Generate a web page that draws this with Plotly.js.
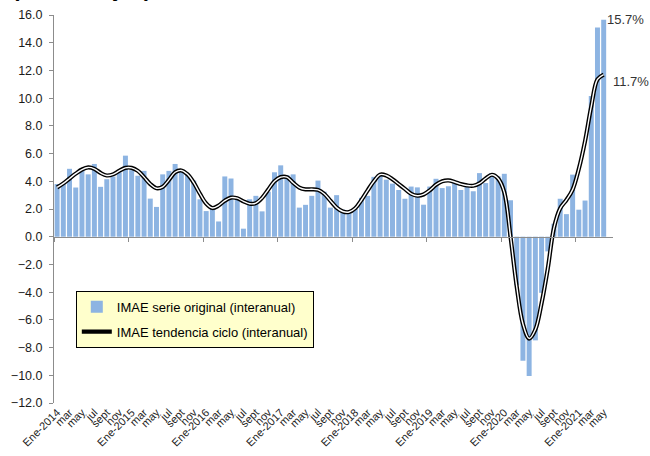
<!DOCTYPE html>
<html>
<head>
<meta charset="utf-8">
<script src="https://cdn.plot.ly/plotly-3.0.1.min.js"></script>
<style>html,body{margin:0;padding:0;background:#fff;}#chart{width:650px;height:456px;}</style>
</head>
<body>
<div id="chart"></div>
<script>
// Monthly series, Jan 2014 .. May 2021
const serieOriginal = [
  3.80, 3.85, 4.90, 3.55, 4.95, 4.50, 5.25, 3.60, 4.15, 4.35, 4.65, 5.85,
  4.80, 4.40, 4.75, 2.75, 2.15, 4.50, 4.75, 5.25, 4.80, 4.45, 4.05, 2.70,
  1.85, 2.05, 1.10, 4.35, 4.20, 2.70, 0.58, 2.70, 2.95, 1.83, 3.25, 4.65,
  5.15, 4.45, 4.50, 2.10, 2.30, 2.95, 4.05, 3.25, 2.10, 3.00, 1.95, 1.80,
  2.00, 2.80, 2.95, 4.32, 4.47, 4.12, 3.83, 3.37, 2.74, 3.62, 3.56, 2.31,
  3.62, 4.18, 3.51, 3.64, 4.00, 3.37, 3.66, 3.28, 4.59, 3.87, 4.60, 4.35,
  4.54, 2.63, -3.50, -8.95, -10.05, -7.48, -4.05, -1.06, 0.94, 2.74, 1.63, 4.48,
  1.95, 2.61, 10.15, 15.10, 15.65
];
const tendenciaCiclo = [
  3.56, 3.85, 4.20, 4.55, 4.85, 5.00, 4.90, 4.60, 4.42, 4.50, 4.75, 4.97,
  4.97, 4.75, 4.30, 3.80, 3.50, 3.60, 4.10, 4.65, 4.78, 4.50, 3.90, 3.10,
  2.40, 2.07, 2.25, 2.60, 2.82, 2.78, 2.55, 2.38, 2.42, 2.80, 3.40, 4.00,
  4.30, 4.30, 3.90, 3.55, 3.42, 3.42, 3.38, 3.10, 2.60, 2.10, 1.82, 1.78,
  2.05, 2.65, 3.35, 4.00, 4.48, 4.42, 4.15, 3.80, 3.45, 3.10, 2.96, 3.05,
  3.35, 3.75, 4.00, 4.06, 3.95, 3.80, 3.70, 3.68, 3.85, 4.20, 4.47, 4.20,
  3.20, 0.00, -3.60, -6.30, -7.35, -6.70, -4.80, -2.30, 0.65, 2.05, 2.65, 3.40,
  4.90, 6.90, 9.40, 11.35, 11.70
];
const tickLabels = [
  "Ene-2014","mar","may","jul","sept","nov",
  "Ene-2015","mar","may","jul","sept","nov",
  "Ene-2016","mar","may","jul","sept","nov",
  "Ene-2017","mar","may","jul","sept","nov",
  "Ene-2018","mar","may","jul","sept","nov",
  "Ene-2019","mar","may","jul","sept","nov",
  "Ene-2020","mar","may","jul","sept","nov",
  "Ene-2021","mar","may"
];
const seriesNames = ["IMAE serie original (interanual)", "IMAE tendencia ciclo (interanual)"];
const endLabels = ["15.7%", "11.7%"];
const titleText = "(Porcentajes)";

const idx = serieOriginal.map((_, i) => i);
const tickVals = tickLabels.map((_, k) => k * 2);
const yearVals = [];
for (let i = 0; i < serieOriginal.length; i += 12) yearVals.push(i - 0.5);
const last = serieOriginal.length - 1;

const FONT = "Liberation Sans, Arial, sans-serif";
const xr = [-0.5, 89.5];

const data = [
  {
    type: "bar", x: idx, y: serieOriginal, name: seriesNames[0],
    marker: {color: "#8DB4E2", line: {width: 0}},
    legendgroup: "a", hoverinfo: "skip"
  },
  {
    type: "scatter", mode: "lines", x: idx, y: tendenciaCiclo, name: seriesNames[1],
    line: {color: "#000000", width: 4.2, shape: "spline", smoothing: 1},
    legendgroup: "b", hoverinfo: "skip"
  },
  {
    type: "scatter", mode: "lines", x: idx, y: tendenciaCiclo, showlegend: false,
    line: {color: "#FFFFFF", width: 1.4, shape: "spline", smoothing: 1},
    legendgroup: "b", hoverinfo: "skip"
  },
  {
    type: "scatter", mode: "markers", x: [], y: [], xaxis: "x2", yaxis: "y",
    showlegend: false, hoverinfo: "skip"
  }
];

const layout = {
  width: 650, height: 456,
  margin: {l: 54, r: 37, t: 15, b: 53},
  paper_bgcolor: "#FFFFFF", plot_bgcolor: "#FFFFFF",
  font: {family: FONT, size: 11, color: "#222222"},
  bargap: 0.2,
  showlegend: true,
  legend: {
    x: 0.039, y: 0.289, xanchor: "left", yanchor: "top",
    bgcolor: "#FFFFCC", bordercolor: "#000000", borderwidth: 1,
    font: {family: FONT, size: 13, color: "#000000"},
    traceorder: "grouped", tracegroupgap: 5
  },
  xaxis: {
    range: xr, showgrid: false, zeroline: false, showline: false,
    tickmode: "array", tickvals: tickVals, ticktext: tickLabels,
    tickangle: -45, ticks: "", tickfont: {family: FONT, size: 11, color: "#222222"},
    automargin: false, fixedrange: true
  },
  xaxis2: {
    overlaying: "x", anchor: "free", position: 12 / 28, range: xr,
    showgrid: false, zeroline: false, showline: true, linecolor: "#8C8C8C", linewidth: 1,
    tickmode: "array", tickvals: yearVals, ticks: "outside", ticklen: 4,
    tickcolor: "#8C8C8C", showticklabels: false, fixedrange: true
  },
  yaxis: {
    range: [-12, 16], dtick: 2, tick0: 0, tickformat: ".1f",
    showgrid: false, zeroline: false, showline: true, linecolor: "#8C8C8C", linewidth: 1,
    ticks: "outside", ticklen: 4, tickcolor: "#8C8C8C", ticklabelstandoff: 4,
    tickfont: {family: FONT, size: 12.5, color: "#1A1A1A"},
    automargin: false, fixedrange: true
  },
  annotations: [
    {x: last, y: serieOriginal[last], xref: "x", yref: "y", text: endLabels[0],
     showarrow: false, xanchor: "left", yanchor: "middle", xshift: 1, yshift: 0,
     font: {family: FONT, size: 13, color: "#333333"}},
    {x: last, y: tendenciaCiclo[last], xref: "x", yref: "y", text: endLabels[1],
     showarrow: false, xanchor: "left", yanchor: "middle", xshift: 7, yshift: -7,
     font: {family: FONT, size: 13, color: "#333333"}},
    {x: -0.079, y: 1.0258, xref: "paper", yref: "paper", text: "<b>" + titleText + "</b>",
     showarrow: false, xanchor: "left", yanchor: "bottom", yshift: 2,
     font: {family: FONT, size: 22, color: "#000000"}}
  ]
};

Plotly.newPlot("chart", data, layout, {staticPlot: true, displayModeBar: false});
</script>
</body>
</html>
